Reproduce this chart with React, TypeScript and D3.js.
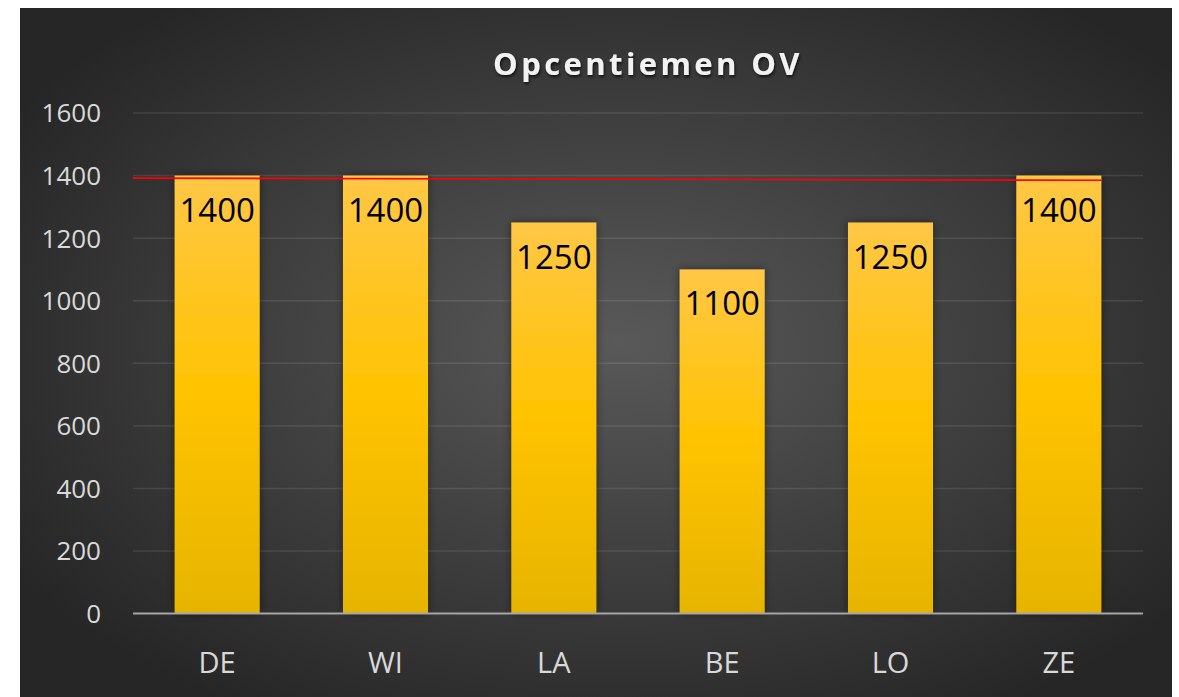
import React, { useEffect, useRef } from 'react'
import * as d3 from 'd3'

// chart data
const categories = ['DE', 'WI', 'LA', 'BE', 'LO', 'ZE']
const values = [1400, 1400, 1250, 1100, 1250, 1400]
const yTicks = [0, 200, 400, 600, 800, 1000, 1200, 1400, 1600]
const title = 'Opcentiemen OV'
// hand drawn red reference line (start / end value)
const refLine = [1392, 1385]

const W = 1179
const H = 697
const margin = { top: 113, right: 36, bottom: 83, left: 133 }

function App() {
  const ref = useRef<SVGSVGElement | null>(null)

  useEffect(() => {
    const svg = d3.select(ref.current)
    svg.selectAll('*').remove()

    const defs = svg.append('defs')
    const bg = defs.append('radialGradient').attr('id', 'bg')
      .attr('cx', '52%').attr('cy', '48%').attr('r', '62%')
    bg.append('stop').attr('offset', '0%').attr('stop-color', '#595959')
    bg.append('stop').attr('offset', '100%').attr('stop-color', '#262626')

    const barGrad = defs.append('linearGradient').attr('id', 'bar')
      .attr('x1', 0).attr('y1', 0).attr('x2', 0).attr('y2', 1)
    barGrad.append('stop').attr('offset', '0%').attr('stop-color', '#ffc746')
    barGrad.append('stop').attr('offset', '50%').attr('stop-color', '#ffc300')
    barGrad.append('stop').attr('offset', '100%').attr('stop-color', '#e6b400')

    const shadow = defs.append('filter').attr('id', 'shadow')
      .attr('x', '-20%').attr('y', '-10%').attr('width', '140%').attr('height', '120%')
    shadow.append('feDropShadow').attr('dx', 0).attr('dy', 0)
      .attr('stdDeviation', 4).attr('flood-color', '#000').attr('flood-opacity', 0.45)

    const tshadow = defs.append('filter').attr('id', 'tshadow')
    tshadow.append('feDropShadow').attr('dx', 1).attr('dy', 2)
      .attr('stdDeviation', 1.5).attr('flood-color', '#000').attr('flood-opacity', 0.7)

    svg.append('rect').attr('x', 20).attr('y', 8)
      .attr('width', 1152).attr('height', H)
      .attr('fill', 'url(#bg)')

    const innerW = W - margin.left - margin.right
    const x = d3.scaleBand().domain(categories)
      .range([margin.left, margin.left + 1010]).paddingInner(0.495).paddingOuter(0.2475)
    const y = d3.scaleLinear().domain([0, 1600]).range([H - margin.bottom - 0.4, margin.top])

    // gridlines
    svg.append('g').selectAll('line').data(yTicks.filter(t => t > 0)).join('line')
      .attr('x1', margin.left).attr('x2', margin.left + 1010)
      .attr('y1', d => y(d)).attr('y2', d => y(d))
      .attr('stroke', '#ffffff').attr('stroke-opacity', 0.1).attr('stroke-width', 1.5)

    // y tick labels
    svg.append('g').selectAll('text').data(yTicks).join('text')
      .attr('x', 101).attr('y', d => y(d))
      .attr('dy', '0.36em')
      .attr('text-anchor', 'end')
      .attr('fill', '#d9d9d9')
      .attr('font-family', '"Open Sans", sans-serif')
      .attr('font-size', 26)
      .text(d => d)

    // bars
    svg.append('g').selectAll('rect').data(values).join('rect')
      .attr('x', (d, i) => x(categories[i]) as number)
      .attr('width', x.bandwidth())
      .attr('y', d => y(d))
      .attr('height', d => y(0) - y(d))
      .attr('fill', 'url(#bar)')
      .attr('filter', 'url(#shadow)')

    // axis line
    svg.append('line')
      .attr('x1', margin.left).attr('x2', margin.left + 1010)
      .attr('y1', y(0)).attr('y2', y(0))
      .attr('stroke', '#a6a6a6').attr('stroke-width', 2)

    // data labels
    svg.append('g').selectAll('text').data(values).join('text')
      .attr('x', (d, i) => (x(categories[i]) as number) + x.bandwidth() / 2)
      .attr('y', d => y(d) + 46)
      .attr('text-anchor', 'middle')
      .attr('fill', '#000')
      .attr('font-family', '"Open Sans", sans-serif')
      .attr('font-size', 33)
      .text(d => d)

    // x labels
    svg.append('g').selectAll('text').data(categories).join('text')
      .attr('x', d => (x(d) as number) + x.bandwidth() / 2)
      .attr('y', 663)
      .attr('dy', '0.36em')
      .attr('text-anchor', 'middle')
      .attr('fill', '#d9d9d9')
      .attr('font-family', '"Open Sans", sans-serif')
      .attr('font-size', 29)
      .text(d => d)

    // red reference line
    const last = categories[categories.length - 1]
    svg.append('line')
      .attr('x1', margin.left).attr('y1', y(refLine[0]))
      .attr('x2', (x(last) as number) + x.bandwidth()).attr('y2', y(refLine[1]))
      .attr('stroke', '#ff0000').attr('stroke-width', 1.6)

    // title
    svg.append('text')
      .attr('x', 648).attr('y', 75)
      .attr('text-anchor', 'middle')
      .attr('fill', '#f2f2f2')
      .attr('font-family', '"Open Sans", sans-serif')
      .attr('font-weight', 'bold')
      .attr('font-size', 31)
      .attr('letter-spacing', 3.4)
      .attr('filter', 'url(#tshadow)')
      .text(title)
  }, [])

  return (
    <svg ref={ref} width={W} height={H}
      style={{ position: 'absolute', left: 0, top: 0, background: '#fff' }} />
  )
}

export default App
